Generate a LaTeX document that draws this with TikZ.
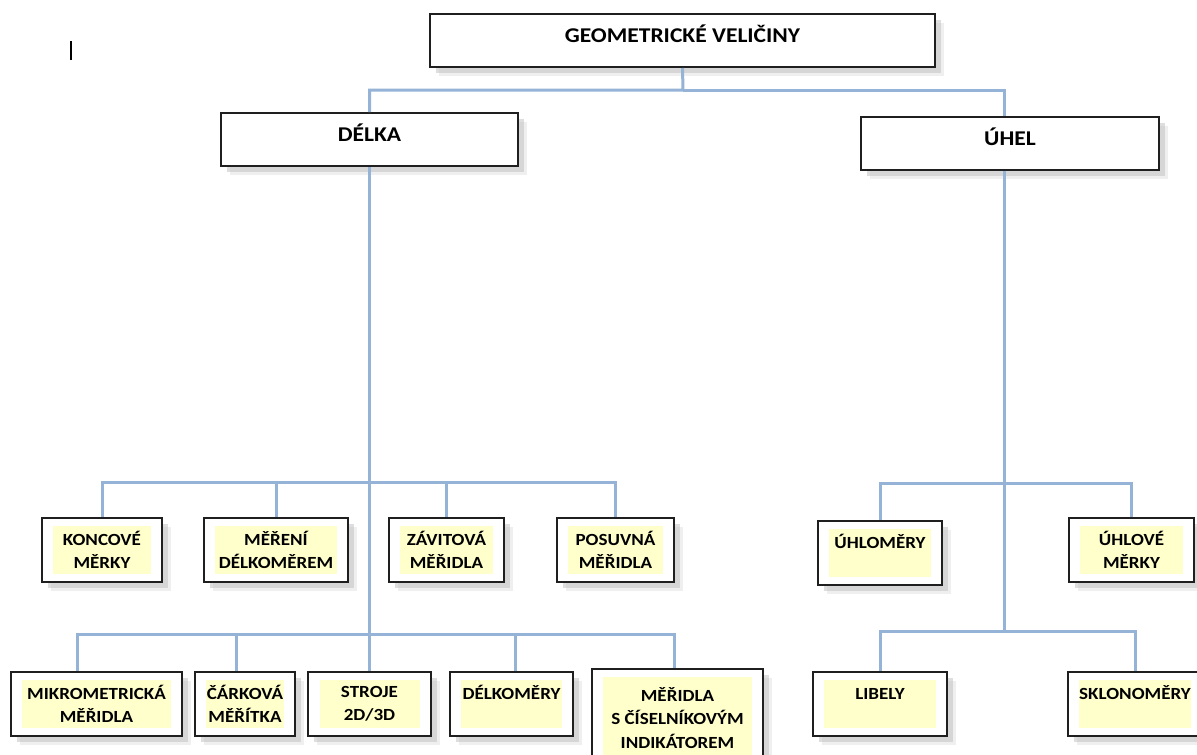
\documentclass[tikz,border=0pt]{standalone}
\usepackage{fontspec}
\setmainfont{Carlito}[FakeStretch=1.12]
\usetikzlibrary{fit,backgrounds,shadows}
\definecolor{linkblue}{RGB}{149,179,215}
\definecolor{paleyellow}{RGB}{255,255,204}

\begin{document}
\begin{tikzpicture}[
    x=1pt, y=-1pt,
    soft/.style={drop shadow={shadow xshift=9pt, shadow yshift=-9pt, fill=black!12}, drop shadow={shadow xshift=6pt, shadow yshift=-6pt, fill=black!25}},
    box/.style={rectangle, draw=black!88, line width=2pt, fill=white, inner sep=0pt, text height=28.5pt, text depth=24.5pt, font=\fontsize{21}{25}\selectfont\bfseries, soft},
    leaf/.style={rectangle, fill=paleyellow, inner sep=0pt, minimum height=48pt, align=center, font=\fontsize{17}{23.5}\selectfont\bfseries},
    single/.style={text height=19.5pt, text depth=28.5pt},
    frame/.style={rectangle, draw=black!88, line width=2pt, fill=white, inner xsep=11pt, inner ysep=8pt, soft},
    connector/.style={draw=linkblue, line width=3pt}
]

\useasboundingbox (0,0) rectangle (1197,755);
\begin{scope}[on background layer]
\fill[white] (0,0) rectangle (1197,755);
\end{scope}

% Cursor mark
\draw[line width=2.2pt] (71,41) -- (71,60);

% Top level
\node[box, minimum width=505pt] (geo) at (682.5,40.5) {GEOMETRICKÉ VELIČINY};
\node[box, minimum width=297pt] (delka) at (369.5,139.5) {DÉLKA};
\node[box, minimum width=298pt] (uhel) at (1010,143) {ÚHEL};

% Leaves - length
\node[leaf, minimum width=98pt] (koncove-txt) at (102,550) {KONCOVÉ\\MĚRKY};
\node[leaf, minimum width=122pt] (mereni-txt) at (276,550) {MĚŘENÍ\\DÉLKOMĚREM};
\node[leaf, minimum width=93pt] (zavitova-txt) at (446.5,550) {ZÁVITOVÁ\\MĚŘIDLA};
\node[leaf, minimum width=95pt] (posuvna-txt) at (615.5,550) {POSUVNÁ\\MĚŘIDLA};
\node[leaf, minimum width=149pt] (mikro-txt) at (96.5,704) {MIKROMETRICKÁ\\MĚŘIDLA};
\node[leaf, minimum width=78pt] (carkova-txt) at (245,704) {ČÁRKOVÁ\\MĚŘÍTKA};
\node[leaf, minimum width=100pt] (stroje-txt) at (369.5,704) {STROJE\\2D/3D};
\node[leaf, single, minimum width=101pt] (delkomery-txt) at (511.5,704) {DÉLKOMĚRY};
\node[leaf, minimum width=149pt, minimum height=82pt] (ciselnik-txt) at (677.5,718) {MĚŘIDLA\\S ČÍSELNÍKOVÝM\\INDIKÁTOREM};

% Leaves - angle
\node[leaf, single, minimum width=102pt] (uhlomery-txt) at (880,553) {ÚHLOMĚRY};
\node[leaf, minimum width=103pt] (uhlove-txt) at (1131.5,550) {ÚHLOVÉ\\MĚRKY};
\node[leaf, single, minimum width=112pt] (libely-txt) at (880,704) {LIBELY};
\node[leaf, single, minimum width=112pt] (sklon-txt) at (1135,704) {SKLONOMĚRY};

% Frames behind the leaves
\begin{scope}[on background layer]
\foreach \leafname in {koncove,mereni,zavitova,posuvna,mikro,carkova,stroje,delkomery,ciselnik,uhlomery,uhlove,libely,sklon}
    \node[frame, fit=(\leafname-txt)] (\leafname) {};
\end{scope}

% Bus points
\coordinate (geobus) at (683,90);
\coordinate (rowa) at (369.5,482);
\coordinate (rowb) at (369.5,634);
\coordinate (rowc) at (1004,483);
\coordinate (rowd) at (1004,631);

% Connectors
\draw[connector] (geo.south) -- (geobus) -| (delka.north);
\draw[connector] (geobus) -| ([xshift=-6pt]uhel.north);

\draw[connector] (delka.south) -- (stroje.north);
\draw[connector] (koncove.north) |- (rowa) -| (posuvna.north);
\draw[connector] (mereni.north) |- (rowa);
\draw[connector] (zavitova.north) |- (rowa);
\draw[connector] ([xshift=-19.5pt]mikro.north) |- (rowb) -| ([xshift=-3.5pt]ciselnik.north);
\draw[connector] ([xshift=-9pt]carkova.north) |- (rowb);
\draw[connector] ([xshift=3.5pt]delkomery.north) |- (rowb);

\draw[connector] ([xshift=-6pt]uhel.south) -- (rowd);
\draw[connector] (uhlomery.north) |- (rowc) -| (uhlove.north);
\draw[connector] (libely.north) |- (rowd) -| (sklon.north);

\end{tikzpicture}
\end{document}
